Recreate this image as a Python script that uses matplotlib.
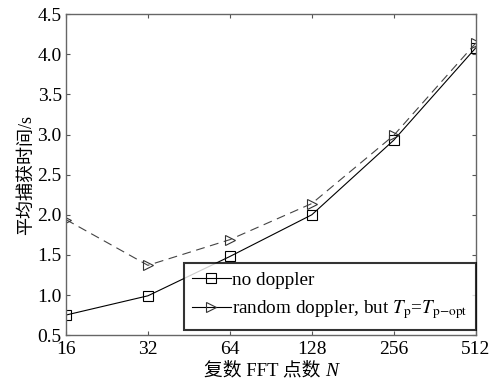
import numpy as np
import matplotlib
matplotlib.use("Agg")
import matplotlib.pyplot as plt
from matplotlib.offsetbox import TextArea, HPacker, AnchoredOffsetbox

FONTS = ["Liberation Serif", "Noto Sans CJK SC"]
plt.rcParams["font.family"] = FONTS
plt.rcParams["mathtext.fontset"] = "stix"

fft_points = [16, 32, 64, 128, 256, 512]
no_doppler = [0.75, 0.99, 1.48, 2.00, 2.93, 4.08]
random_doppler = [1.94, 1.37, 1.69, 2.14, 2.99, 4.14]
yticks = [0.5, 1.0, 1.5, 2.0, 2.5, 3.0, 3.5, 4.0, 4.5]


def main():
    fig = plt.figure(figsize=(4.92, 3.83), dpi=100)
    ax = fig.add_axes([0.134, 0.125, 0.833, 0.838])

    ax.plot(fft_points, no_doppler, color="black", lw=0.8, marker="s",
            ms=6.5, mfc="none", mec="black", mew=0.8, label="no doppler")
    ax.plot(fft_points, random_doppler, color="#444444", lw=0.8,
            dashes=(8, 5), marker=">", ms=7.5, mfc="none", mec="#333333",
            mew=0.8,
            label=r"random doppler, but $T_\mathrm{p}$=$T_\mathrm{p\!-\!opt}$")

    ax.set_xscale("log", base=2)
    ax.set_xlim(16, 512)
    ax.set_xticks(fft_points)
    ax.set_xticklabels([str(v) for v in fft_points])
    ax.minorticks_off()
    ax.set_ylim(0.5, 4.5)
    ax.set_yticks(yticks)
    ax.set_yticklabels([f"{v:.1f}" for v in yticks])

    ax.tick_params(direction="in", top=True, right=True, labelsize=14,
                   length=3, color="#555555")
    ax.tick_params(axis="x", pad=4)
    ax.tick_params(axis="y", pad=3)
    for s in ax.spines.values():
        s.set_color("#666666")
        s.set_linewidth(1.0)

    ax.set_ylabel("平均捕获时间/s", fontsize=13, labelpad=2)

    # x label: chinese text plus italic N
    xl = HPacker(children=[
        TextArea("复数 FFT 点数 ", textprops=dict(family=FONTS, size=13.5)),
        TextArea("N", textprops=dict(family="Liberation Serif", size=14,
                                     style="italic")),
    ], align="baseline", pad=0, sep=0)
    anch = AnchoredOffsetbox(loc="upper center", child=xl, pad=0,
                             frameon=False, bbox_to_anchor=(0.5, -0.085),
                             bbox_transform=ax.transAxes, borderpad=0)
    ax.add_artist(anch)

    leg = ax.legend(loc="lower right", bbox_to_anchor=(1.0, 0.016),
                    borderaxespad=0, fancybox=False, fontsize=13.8,
                    handlelength=2.0, handletextpad=0.05, borderpad=0.45,
                    labelspacing=0.5)
    leg.get_frame().set_edgecolor("black")
    leg.get_frame().set_linewidth(1.5)
    for h in leg.get_lines():
        h.set_linestyle("-")
        h.set_color("black")

    fig.savefig("out.png", dpi=100)


if __name__ == "__main__":
    main()
